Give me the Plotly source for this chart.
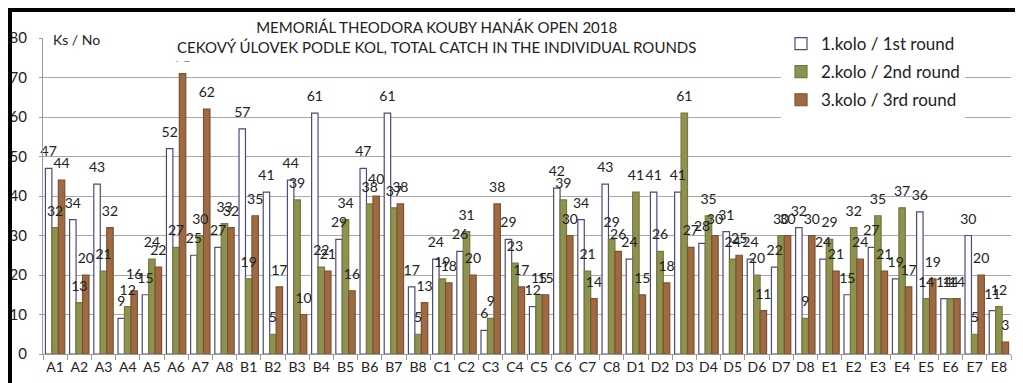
import plotly.graph_objects as go

categories = ["A1","A2","A3","A4","A5","A6","A7","A8",
              "B1","B2","B3","B4","B5","B6","B7","B8",
              "C1","C2","C3","C4","C5","C6","C7","C8",
              "D1","D2","D3","D4","D5","D6","D7","D8",
              "E1","E2","E3","E4","E5","E6","E7","E8"]
round1 = [47,34,43,9,15,52,25,27,
          57,41,44,61,29,47,61,17,
          24,26,6,29,12,42,34,43,
          24,41,41,28,31,24,22,32,
          24,15,27,19,36,14,30,11]
round2 = [32,13,21,12,24,27,30,33,
          19,5,39,22,34,38,37,5,
          19,31,9,23,15,39,21,29,
          41,26,61,35,24,20,30,9,
          29,32,35,37,14,14,5,12]
round3 = [44,20,32,16,22,71,62,32,
          35,17,10,21,16,40,38,13,
          18,20,38,17,15,30,14,26,
          15,18,27,30,25,11,30,30,
          21,24,21,17,19,14,20,3]
series_names = ["1.kolo / 1st round", "2.kolo / 2nd round", "3.kolo / 3rd round"]
y_ticks = [0,10,20,30,40,50,60,70,80]

FONT = "Lato"
fills = ["#ffffff", "#8d934f", "#9e6a43"]
lines = ["#4b4b7e", "#74793c", "#7e5231"]

fig = go.Figure()
all_vals = [round1, round2, round3]
for i, (name, vals) in enumerate(zip(series_names, all_vals)):
    fig.add_trace(go.Bar(
        x=categories, y=vals, name=name,
        marker=dict(color=fills[i], line=dict(color=lines[i], width=1.2)),
        legendgroup=f"g{i}", offsetgroup=f"o{i}", alignmentgroup="a",
    ))
# value labels, grouped like the bars
for i, (name, vals) in enumerate(zip(series_names, all_vals)):
    fig.add_trace(go.Scatter(
        x=categories, y=vals, mode="markers+text", orientation="v",
        marker=dict(size=12, color="rgba(0,0,0,0)"),
        text=[str(v) for v in vals], textposition="top center",
        textfont=dict(family=FONT, size=14, color="#222222"),
        showlegend=False, hoverinfo="skip", cliponaxis=False,
        offsetgroup=f"o{i}", alignmentgroup="a",
    ))

W, H = 1023, 383
ml, mr, mt, mb = 35, 20, 30, 37
pw, ph = W - ml - mr, H - mt - mb

def px_x(p):
    return (p - ml) / pw

def px_y(p):
    return 1 - (p - mt) / ph

fig.update_layout(
    width=W, height=H,
    margin=dict(l=ml, r=mr, t=mt, b=mb, pad=0, autoexpand=False),
    paper_bgcolor="white", plot_bgcolor="white",
    barmode="group", bargap=0.2, bargroupgap=0,
    scattermode="group", scattergap=0.2,
    font=dict(family=FONT, color="#222222"),
    showlegend=True,
    legend=dict(x=px_x(773), y=px_y(18), xanchor="left", yanchor="top",
                bgcolor="white", font=dict(family=FONT, size=17, color="#222222"),
                tracegroupgap=3, traceorder="grouped",
                itemwidth=30),
    xaxis=dict(showgrid=False, showline=True, linecolor="#9a9a9a", linewidth=1,
               ticks="outside", tickson="boundaries", ticklen=5, tickcolor="#9a9a9a",
               tickangle=0,
               tickfont=dict(family=FONT, size=14, color="#222222")),
    yaxis=dict(range=[0, 80], tickvals=y_ticks, showgrid=True, gridcolor="#a8a8a8",
               gridwidth=1, showline=True, linecolor="#9a9a9a", linewidth=1,
               ticks="outside", ticklen=3, tickcolor="#9a9a9a", zeroline=False,
               ticklabelstandoff=9,
               tickfont=dict(family=FONT, size=15, color="#222222")),
    annotations=[
        dict(text="MEMORIÁL THEODORA KOUBY HANÁK OPEN 2018<br>CEKOVÝ ÚLOVEK PODLE KOL, TOTAL CATCH IN THE INDIVIDUAL ROUNDS",
             xref="paper", yref="paper", x=px_x(428), y=px_y(4), xanchor="center", yanchor="top",
             showarrow=False, bgcolor="white", borderpad=5, align="center",
             font=dict(family=FONT, size=15, color="#222222")),
        dict(text="Ks / No", xref="paper", yref="paper", x=px_x(41), y=px_y(31),
             xanchor="left", yanchor="middle", showarrow=False, bgcolor="white",
             borderpad=3, font=dict(family=FONT, size=14, color="#222222")),
    ],
    shapes=[
        dict(type="rect", xref="paper", yref="paper",
             x0=px_x(2), x1=px_x(W - 2), y0=px_y(H - 2), y1=px_y(2),
             line=dict(color="black", width=4), fillcolor="rgba(0,0,0,0)", layer="above"),
    ],
)

fig.write_html("out.html")
